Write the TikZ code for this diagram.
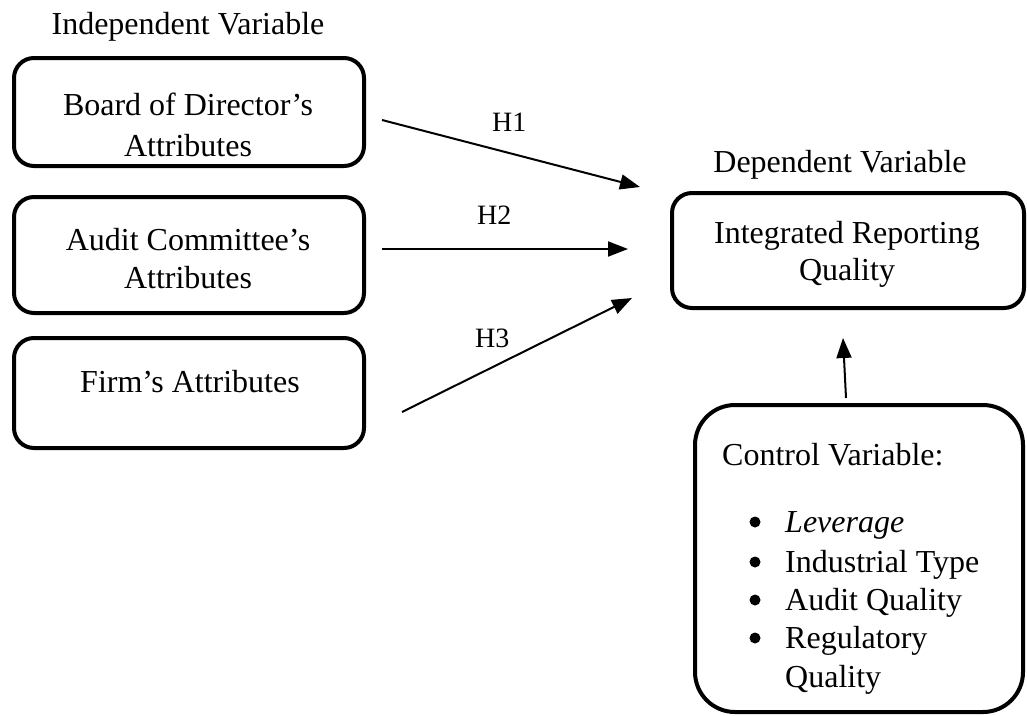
\documentclass[tikz,border=0pt]{standalone}
\usepackage{fontspec}
\setmainfont{Liberation Serif}
\usetikzlibrary{arrows.meta}
\begin{document}
\begin{tikzpicture}[x=1pt,y=-1pt,
  boxshape/.style={draw,line width=4pt,rounded corners=20pt,inner sep=0pt},
  txt/.style={anchor=base,inner sep=0pt,font=\fontsize{32}{38}\selectfont},
  hlab/.style={anchor=base west,inner sep=0pt,font=\fontsize{28}{34}\selectfont},
  conn/.style={line width=2pt,-{Triangle[length=20pt,width=15pt]}}]
\useasboundingbox (0,0) rectangle (1027,715);
% boxes
\node[boxshape,minimum width=350pt,minimum height=108pt] (b1) at (189,112) {};
\node[boxshape,minimum width=350pt,minimum height=116pt] (b2) at (189,255) {};
\node[boxshape,minimum width=350pt,minimum height=110pt] (b3) at (189,393) {};
\node[boxshape,minimum width=352pt,minimum height=115pt] (irq) at (848,250.5) {};
\node[boxshape,rounded corners=40pt,minimum width=328pt,minimum height=307pt] (ctrl) at (859,558.5) {};
% headings
\node[txt] (indep) at (188,34) {Independent Variable};
\node[txt] (dep) at (840,172) {Dependent Variable};
% box texts
\node[txt] (t1a) at (188,115) {Board of Director’s};
\begin{scope}
\clip (0,0) rectangle (1027,157.5);
\node[txt] (t1b) at (188,156) {Attributes};
\end{scope}
\node[txt] (t2a) at (188,250) {Audit Committee’s};
\node[txt] (t2b) at (188,288) {Attributes};
\node[txt] (t3) at (190,392) {Firm’s Attributes};
\node[txt] (t4a) at (847,243) {Integrated Reporting};
\node[txt] (t4b) at (847,280) {Quality};
% control list
\node[txt,anchor=base west] (cv) at (722,465) {Control Variable:};
\foreach \n/\y/\t in {l1/532/\textit{Leverage},l2/572/Industrial Type,l3/610/Audit Quality,l4/648/Regulatory,l5/687/Quality}{
  \node[txt,anchor=base west] (\n) at (785,\y) {\t};
}
\foreach \n/\y in {d1/532,d2/572,d3/610,d4/648}{
  \fill (755,\y-10) circle (5.5pt) coordinate (\n);
}
% connectors
\coordinate (h1s) at (382,120); \coordinate (h1e) at (640,187);
\coordinate (h2s) at (382,249); \coordinate (h2e) at (628,249);
\coordinate (h3s) at (402,412); \coordinate (h3e) at (632,298);
\coordinate (cs) at (846,398); \coordinate (ce) at (843,338);
\draw[conn] (h1s) -- (h1e);
\draw[conn] (h2s) -- (h2e);
\draw[conn] (h3s) -- (h3e);
\draw[conn] (cs) -- (ce);
\node[hlab] (H1) at (492,131) {H1};
\node[hlab] (H2) at (477,224) {H2};
\node[hlab] (H3) at (475,347) {H3};
\end{tikzpicture}
\end{document}
